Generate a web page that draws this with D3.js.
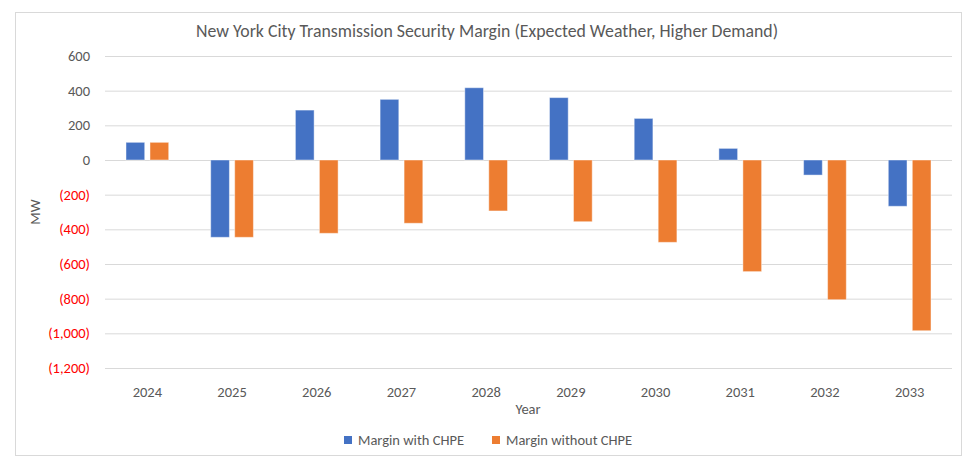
<!DOCTYPE html>
<html>
<head>
<meta charset="utf-8">
<script src="https://cdn.jsdelivr.net/npm/d3@7"></script>
<style>
  html, body { margin: 0; padding: 0; background: #fff; }
  svg text { font-family: Calibri, Carlito, Lato, sans-serif; fill: #595959; }
</style>
</head>
<body>
<svg id="chart" width="975" height="465"></svg>
<script>
// NYC transmission security margin, MW
const years = ["2024", "2025", "2026", "2027", "2028", "2029", "2030", "2031", "2032", "2033"];
const seriesNames = ["Margin with CHPE", "Margin without CHPE"];
const withChpe = [102, -446, 288, 350, 417, 360, 240, 67, -87, -267];
const withoutChpe = [102, -446, -423, -365, -294, -356, -475, -644, -806, -985];
const yTicks = [600, 400, 200, 0, -200, -400, -600, -800, -1000, -1200];
const colors = ["#4472C4", "#ED7D31"];

const svg = d3.select("#chart");
const margin = { left: 105, right: 23, top: 56, bottom: 97 };
const W = 975, H = 465;

// outer chart frame
svg.append("rect")
    .attr("x", 15.5).attr("y", 12.5)
    .attr("width", 946).attr("height", 443)
    .attr("fill", "#fff").attr("stroke", "#d9d9d9");

const x0 = d3.scaleBand()
    .domain(years)
    .range([margin.left, W - margin.right]);

const x1 = d3.scaleBand()
    .domain(seriesNames)
    .range([0, x0.bandwidth()])
    .paddingInner(0.22)
    .paddingOuter(0.875);

const y = d3.scaleLinear()
    .domain([-1200, 600])
    .range([H - margin.bottom, margin.top]);

const fmt = v => {
    const s = d3.format(",")(Math.abs(v));
    return v < 0 ? `(${s})` : s;
};

// gridlines + y labels
const yAxis = svg.append("g")
    .attr("transform", `translate(${margin.left},0)`)
    .call(d3.axisLeft(y).tickValues(yTicks).tickSize(-(W - margin.left - margin.right)).tickFormat(fmt).tickPadding(15));
yAxis.select(".domain").remove();
yAxis.selectAll(".tick line").attr("stroke", "#d9d9d9");
yAxis.selectAll(".tick text")
    .style("font-size", "14.5px")
    .style("fill", d => d < 0 ? "#FF0000" : "#595959");

// bars
const rows = years.map((yr, i) => ({ year: yr, values: [withChpe[i], withoutChpe[i]] }));
svg.append("g")
    .selectAll("g")
    .data(rows)
    .join("g")
    .attr("transform", d => `translate(${x0(d.year)},0)`)
    .selectAll("rect")
    .data(d => d.values.map((v, j) => ({ name: seriesNames[j], v, j })))
    .join("rect")
    .attr("x", d => x1(d.name))
    .attr("width", x1.bandwidth())
    .attr("y", d => y(Math.max(0, d.v)))
    .attr("height", d => Math.abs(y(d.v) - y(0)))
    .attr("fill", d => colors[d.j])
    .attr("stroke", "rgba(255,255,255,0.45)")
    .attr("stroke-width", 1);

// x labels
const xAxis = svg.append("g")
    .attr("transform", `translate(0,${H - margin.bottom})`)
    .call(d3.axisBottom(x0).tickSize(0).tickPadding(19));
xAxis.select(".domain").remove();
xAxis.selectAll(".tick text").style("font-size", "14.5px");

// title
svg.append("text")
    .attr("x", 487).attr("y", 37)
    .attr("text-anchor", "middle")
    .style("font-size", "17.8px")
    .text("New York City Transmission Security Margin (Expected Weather, Higher Demand)");

// axis titles
svg.append("text")
    .attr("x", 528).attr("y", 414)
    .attr("text-anchor", "middle")
    .style("font-size", "14.5px")
    .text("Year");

svg.append("text")
    .attr("transform", `translate(40,${y(-300)}) rotate(-90)`)
    .attr("text-anchor", "middle")
    .style("font-size", "14.5px")
    .text("MW");

// legend
const legend = svg.append("g").attr("transform", "translate(344,440)");
const items = legend.selectAll("g")
    .data(seriesNames)
    .join("g")
    .attr("transform", (d, i) => `translate(${i * 148},0)`);
items.append("rect")
    .attr("x", 0).attr("y", -4)
    .attr("width", 8).attr("height", 8)
    .attr("fill", (d, i) => colors[i]);
items.append("text")
    .attr("x", 14).attr("y", 5)
    .style("font-size", "14.5px")
    .text(d => d);
</script>
</body>
</html>
